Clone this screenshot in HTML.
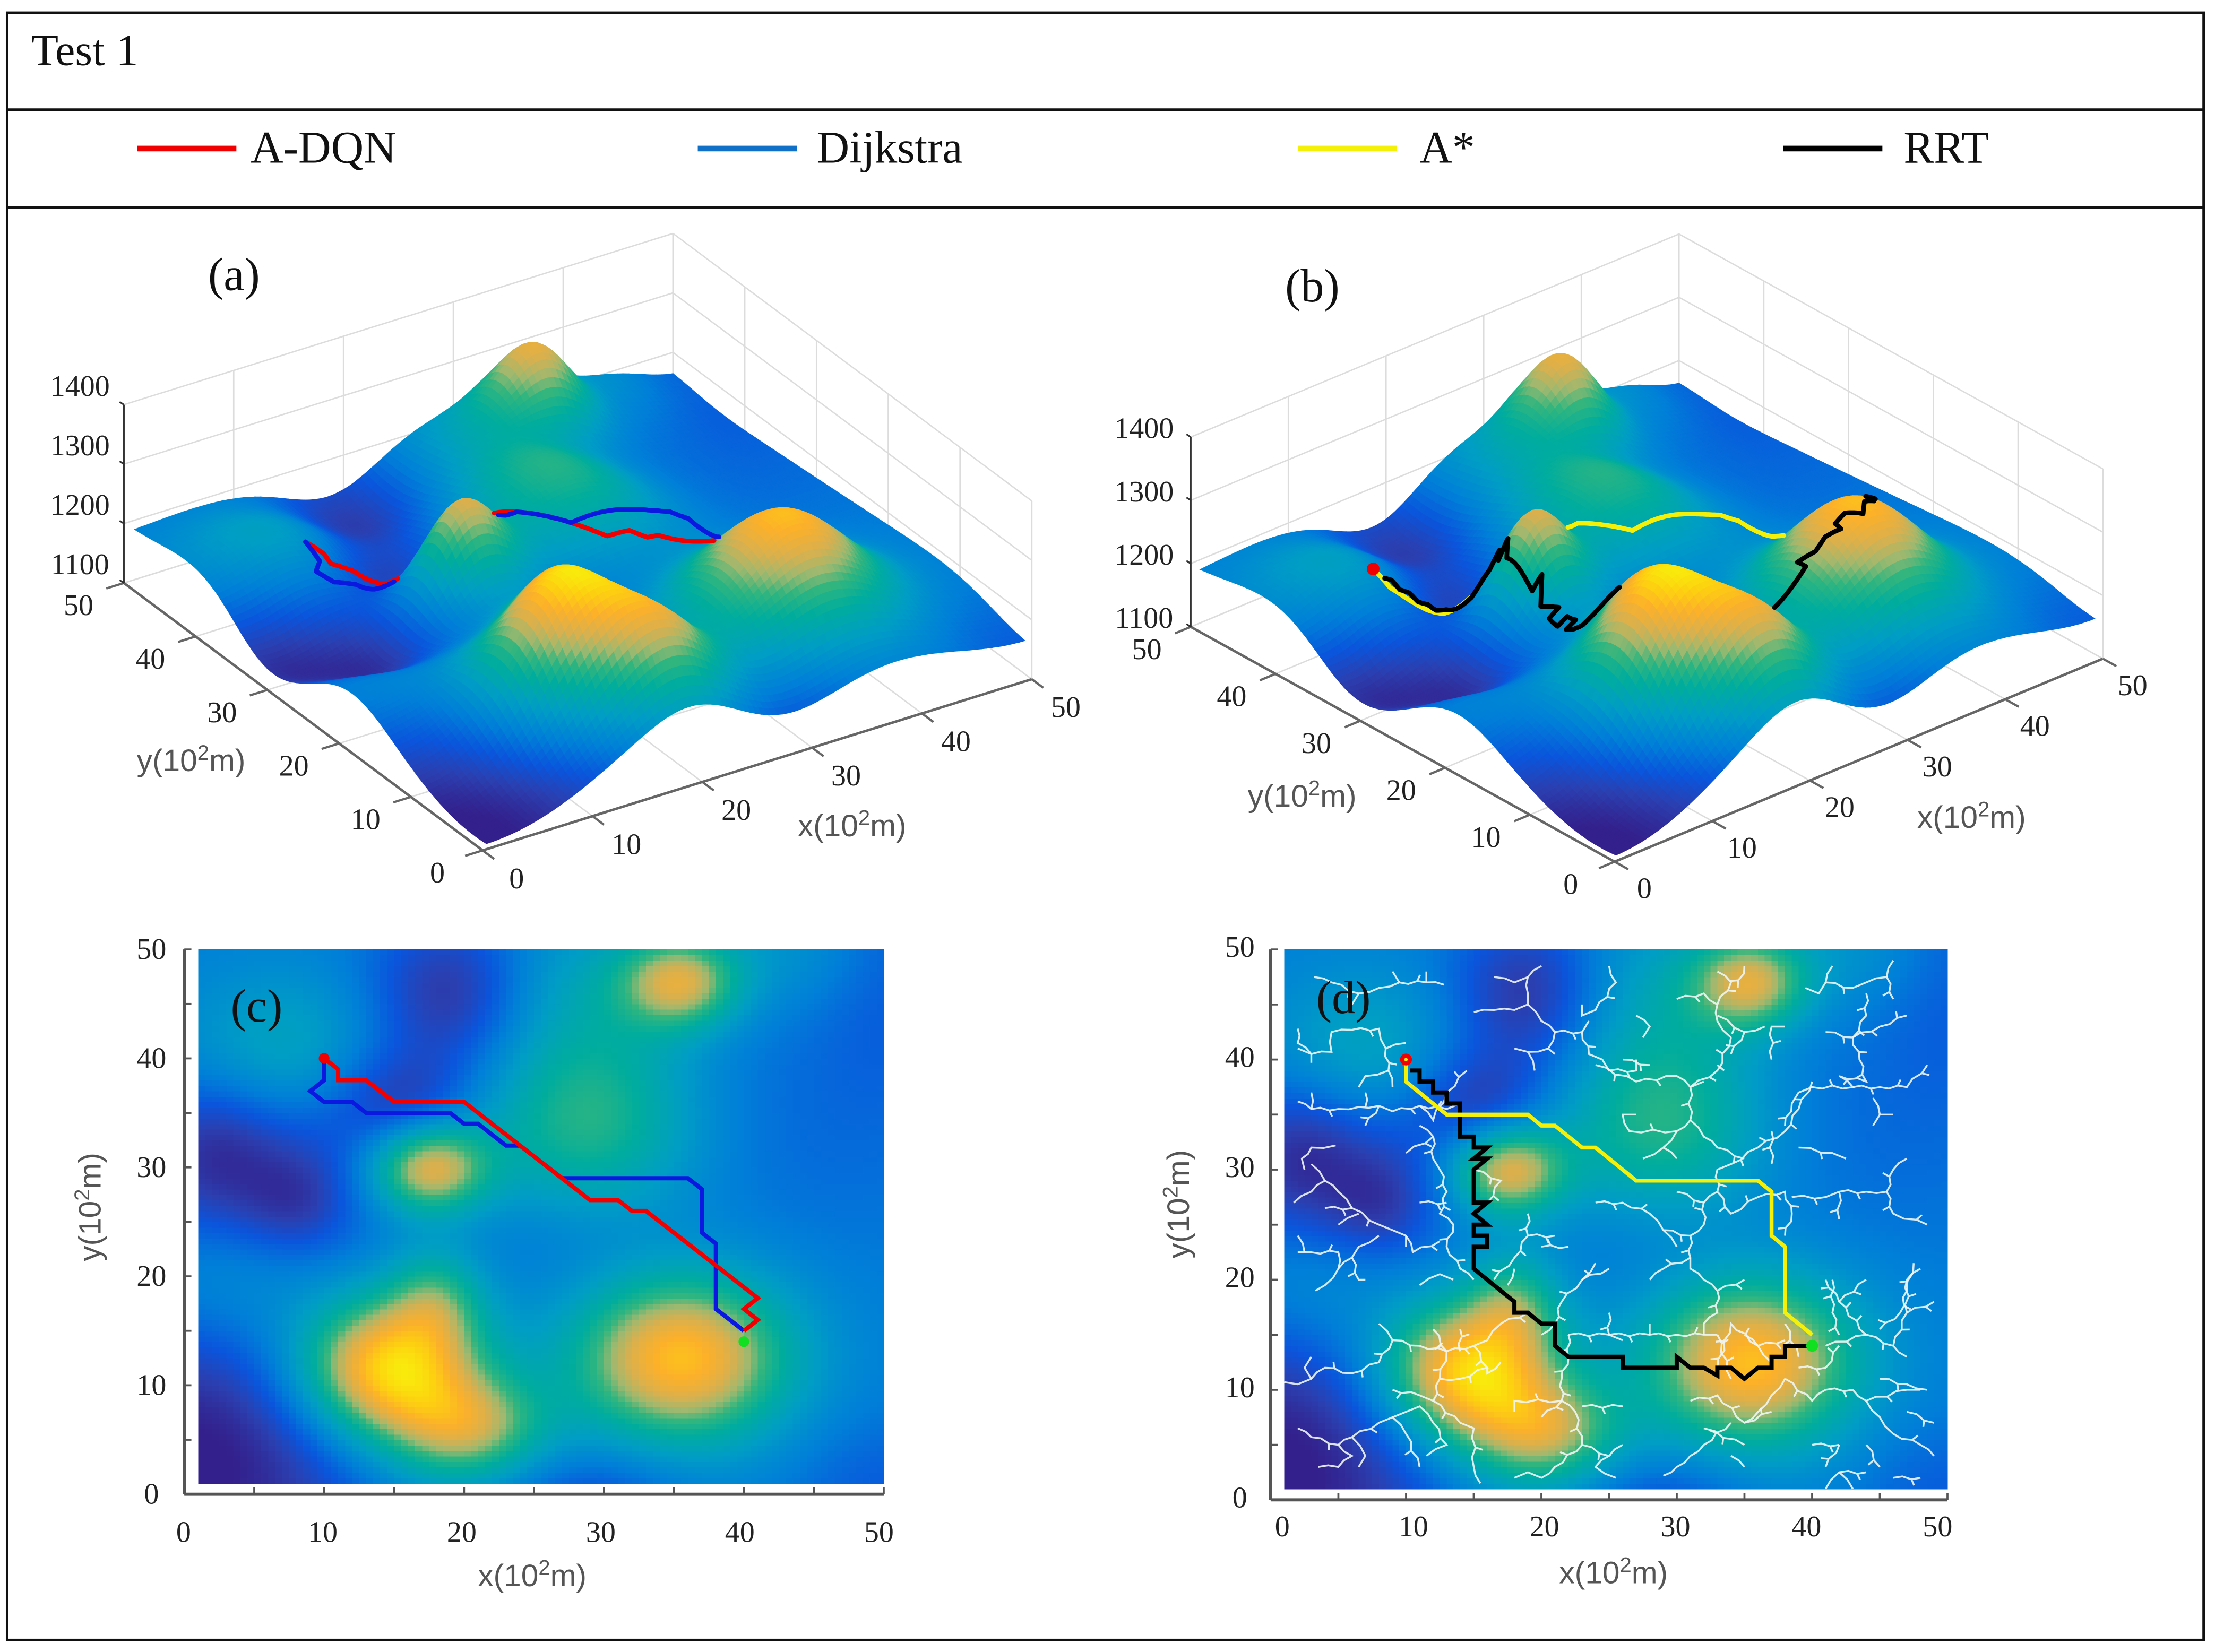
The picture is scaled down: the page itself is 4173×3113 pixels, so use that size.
<!DOCTYPE html>
<html lang="en">
<head>
<meta charset="utf-8">
<title>Test 1 path planning comparison</title>
<style>
html,body{margin:0;padding:0;background:#fff;width:4173px;height:3113px;overflow:hidden}
svg{display:block}
.tick{font-family:"Liberation Serif",serif;font-size:21px;fill:#222;text-anchor:middle;dominant-baseline:central}
.title{font-family:"Liberation Sans",sans-serif;font-size:22px;fill:#555;text-anchor:middle}
.panel{font-family:"Liberation Serif",serif;font-size:33px;fill:#111}
.legend{font-family:"Liberation Serif",serif;font-size:32px;fill:#111}
</style>
</head>
<body>
<svg id="fig" xmlns="http://www.w3.org/2000/svg" width="4173" height="3113" viewBox="0 0 1565 1167.5">
  <rect x="0" y="0" width="1565" height="1167.5" fill="#fff"/>
  <g id="layer-a"></g>
  <g id="layer-b"></g>
  <g id="layer-c"></g>
  <g id="layer-d"></g>

  <rect x="5" y="9" width="1552" height="1150" fill="none" stroke="#111" stroke-width="1.8"/>
  <line x1="5" y1="77.5" x2="1557" y2="77.5" stroke="#111" stroke-width="1.8"/>
  <line x1="5" y1="146.5" x2="1557" y2="146.5" stroke="#111" stroke-width="1.8"/>
  <text x="22" y="46" font-family="'Liberation Serif',serif" font-size="31.5" fill="#111">Test 1</text>

  <g>
    <line x1="97" y1="105" x2="167" y2="105" stroke="#f00000" stroke-width="4"/>
    <text class="legend" x="177" y="115">A-DQN</text>
  </g>
  <g>
    <line x1="493" y1="105" x2="563" y2="105" stroke="#1070c8" stroke-width="4"/>
    <text class="legend" x="577" y="115">Dijkstra</text>
  </g>
  <g>
    <line x1="917" y1="105" x2="987" y2="105" stroke="#f5f00a" stroke-width="4"/>
    <text class="legend" x="1003" y="115">A*</text>
  </g>
  <g>
    <line x1="1260" y1="105" x2="1330" y2="105" stroke="#000" stroke-width="4"/>
    <text class="legend" x="1345" y="115">RRT</text>
  </g>

  <text class="panel" x="147" y="205">(a)</text>
  <text class="panel" x="908" y="213">(b)</text>
  <text class="panel" x="163" y="722">(c)</text>
  <text class="panel" x="930" y="716">(d)</text>

  <text class="title" x="135" y="545">y(10<tspan dy="-8" font-size="15">2</tspan><tspan dy="8">m)</tspan></text>
  <text class="title" x="602" y="591">x(10<tspan dy="-8" font-size="15">2</tspan><tspan dy="8">m)</tspan></text>
  <text class="title" x="920" y="570">y(10<tspan dy="-8" font-size="15">2</tspan><tspan dy="8">m)</tspan></text>
  <text class="title" x="1393" y="585">x(10<tspan dy="-8" font-size="15">2</tspan><tspan dy="8">m)</tspan></text>
  <text class="title" x="376" y="1121">x(10<tspan dy="-8" font-size="15">2</tspan><tspan dy="8">m)</tspan></text>
  <text class="title" transform="translate(71 853) rotate(-90)">y(10<tspan dy="-8" font-size="15">2</tspan><tspan dy="8">m)</tspan></text>
  <text class="title" x="1140" y="1119">x(10<tspan dy="-8" font-size="15">2</tspan><tspan dy="8">m)</tspan></text>
  <text class="title" transform="translate(840 851) rotate(-90)">y(10<tspan dy="-8" font-size="15">2</tspan><tspan dy="8">m)</tspan></text>
</svg>

<script>
/* ---------- values ---------- */
const axisTicks = [0, 10, 20, 30, 40, 50];
const minorTicks = [0, 5, 10, 15, 20, 25, 30, 35, 40, 45, 50];
const elevationTicks = [1100, 1200, 1300, 1400];
const baseElevation = 1180;

/* terrain features: hills (positive) and pits (negative) */
const hillX      = [14.5, 20.5,18,  35.5, 17.5, 35.5, 29,  7,  3,  19,  4.5, 1,  29, 50, 50, 45, 18, 15.5, 44, 29, 8,  28, 2];
const hillY      = [11.5, 6,   18,  12.5, 30,   47,   34.5,41, 20, 46,  29,  3,  -1, 0,  50, 35, 1,  36,   50, 47, 26.5,23, 33];
const hillHeight = [195,  110, 70,  170,  145,  122,  90,  45, 37, -65, -60, -85,-40,-25,-25,-15,10, -55,  25, 35, -25,-15,-25];
const hillSpreadX= [4.6,  4,   2.5, 5.5,  3,    3,    5.5, 5,  5,  4,   6,   9,  5,  5,  3.5,9,  4,  3.5,  5,  5,  2.5, 6,  3];
const hillSpreadY= [4.7,  3.5, 3.5, 5.5,  3,    3,    6.5, 5,  5,  5,   5.5, 10, 4,  5,  8,  9,  3,  3.5,  4,  5,  3,   4,  4];

/* colour scale */
const colorLevels = [1100, 1125, 1150, 1180, 1215, 1250, 1275, 1295, 1315, 1340, 1362, 1385];
const colorValues = ['#33208c','#2b3fb0','#0a55dc','#007fd8','#009dc5','#00ad9d','#30b57f','#9fb86f','#d8b04f','#fcb02a','#fdd010','#f7f70a'];

/* planned paths, [x, y] in 10^2 m */
const adqnPath = [[10,40],[11,39],[11,38],[13,38],[15,36],[20,36],[24,32],[27,29],[29,27],[31,27],[32,26],[33,26],[38,21],[41,18],[40,17],[41,16],[40,15]];
const dijkstraPath = [[10,40],[10,38],[9,37],[10,36],[12,36],[13,35],[19,35],[20,34],[21,34],[23,32],[24,32],[27,29],[36,29],[37,28],[37,24],[38,23],[38,17],[40,15]];
const astarPath = [[10,40],[10,38],[13,35],[19,35],[20,34],[21,34],[23,32],[24,32],[27,29],[36,29],[37,28],[37,24],[38,23],[38,17],[40,15]];
const rrtPath = [[10.3,39],[11,39],[11,38],[12,38],[12,37],[13,37],[13,36],[14,36],[14,34],[14,33],[15,33],[15,32],[16,32],[15,31],[16,31],[15,30],[15,28],[15,27],[16,27],[15,26],[16,25],[15,25],[15,24],[16,24],[16,23],[15,23],[15,22],[15,21],[16,20],[17,19],[18,18],[18,17],[19,17],[20,16],[21,16],[21,14],[22,13],[26,13],[26,12],[30,12],[30,13],[31,12],[32,12],[33,11.3],[33,12],[34,12],[35,11],[36,12],[37,12],[37,13],[38,13],[38,14],[40,14]];
const startPoint = [10, 40];
const goalPoint = [40, 14];

/* RRT exploration branches in panel (d) */
const treeBranches = [
 [[3.2,47.5],[4.5,47],[6.5,46],[8,46.5],[9.5,47],[11.5,47],[12.8,46.8]],[[9,48],[9.5,47]],[[11.5,48],[11.5,47]],[[6,45],[6.5,46]],
 [[2,42.8],[2,41.5],[3,40.5],[4.5,40.7],[4.5,42.5],[6,42.7],[8,42.8],[8.5,41],[8.7,39],[9,37.5]],[[8.5,41],[10,41.5]],[[3,40.5],[2,41]],[[3,40.5],[3,39.7]],[[8.7,39],[7,38.5],[6.5,37.5]],
 [[2,36.2],[3,35.5],[5,35.5],[6.5,35.7],[8,35.8],[9,35.3],[11,35.8],[13,35.5],[14,36]],[[3,37],[3,35.5]],[[7,37],[7,35.7]],[[8,35.8],[7,34]],[[11,35.8],[12,34.5],[13,37],[14.5,39]],
 [[11,34],[12,33],[12,31],[12.5,30],[13,28],[12.5,26],[13.5,25],[13,23],[14,21],[15,20]],[[10,31.5],[12,33]],[[11,27],[13,27]],
 [[1.7,27],[3,28],[4,29],[5,28],[6,26.5],[8,25],[9,24.5],[10,24],[10,23]],[[2.5,30],[2.3,31],[3,32],[4.8,32.2]],[[3,30.5],[4,29]],[[4,26.5],[6,26.5]],[[5,25],[6.5,26]],[[10,24],[10.5,22.5],[12.5,23.5]],
 [[2,22.5],[3,22.5],[5,22.5],[5,21],[4,19.5],[3.3,19]],[[5,21],[6,22],[6.5,23],[8,24]],[[6,22],[6.5,20],[7,20]],[[2,24],[2.5,22.5]],[[11,19.5],[12.5,20.5],[13.5,20]],
 [[15,44.3],[16.5,44.5],[18,44.5],[19,45],[19,46],[19,47.5],[20,48.5]],[[16.5,47.5],[18,47],[19,47.5]],[[19,45],[20,43.5],[21,42.5],[23,42.5],[23.5,40.5],[24.5,40],[25,39],[27,39],[27,40]],[[21,42.5],[20.5,41],[21,40.5]],[[19,40.7],[19.5,39]],[[18,41],[19,40.7],[20.5,41]],[[23,42.5],[23.5,43.5]],[[23,45],[23,44],[24,44.5],[25.5,47],[25,48.5]],
 [[24,39.5],[27,38],[30,38.5],[31,37.5],[31,34.5],[30,33.5],[26.5,33.5],[26,35],[27,35]],[[30,33.5],[29,32],[27.5,31]],[[29,32],[30,31]],[[31,34.5],[32,33],[33,32],[35,31]],[[32,38],[31,37.5]],[[31,37.5],[33,39],[34,42]],[[33.5,39],[33,39.5]],[[34,42],[33,43.5],[33,45],[34,47],[33,48]],[[35,48.5],[34.5,46.5]],[[30,45.5],[32,46],[33,45]],[[33,44],[35,42.5],[36.5,43]],[[35,42.5],[34,40.5]],[[37,40],[37,43],[38,43]],[[27.5,42],[28,43],[27,44]],[[26,40],[28,39.5]],
 [[39.5,46.5],[40.5,46],[41,47],[41.5,48.5]],[[41,47],[43,46.5],[44,47],[45.5,47.5],[46,45.5]],[[45.5,47.5],[46,49]],[[44,46],[44,44],[43,42]],[[41,42.5],[43,42],[43.5,40],[44,38],[42,38.5],[43,37.5],[40,37.5],[39,37],[38.5,36],[38,34]],[[43,37.5],[45,37.5],[47,37.5],[48.5,39.5]],[[44.5,36.5],[45,35],[46,35]],[[45,35],[44.5,34]],[[43,42],[45,43],[47,44]],
 [[40,38],[39,35.5],[38,33.5],[36,32],[34,30.5],[33,30],[33,28],[34,26],[36,27.5],[38,28],[38.5,26],[38,24]],[[38.5,27.5],[41,27.5],[42,28],[44,28],[45.5,28],[46,30],[47,31]],[[45.5,28],[46,26],[48.5,25]],[[42,28],[42,25.5]],[[39,32],[41.5,31.5],[42.5,31]],[[37,33.5],[37,30.5]],
 [[24,27],[26,27],[28,26],[29,24.5],[31,24],[32,25],[32,27],[33,28]],[[29,24.5],[30,23]],[[31,24],[31,22],[31,21],[32,20]],[[31,22],[29,21],[28,20]],[[32,20],[33,19],[35,20]],[[33,19],[33,17],[32,16],[32,15]],[[30,28],[32,27]],
 [[19,26],[19,24],[18,22],[16.5,20]],[[19,24],[21,24]],[[22,23],[20,23]],[[24,21.5],[23,20],[21.5,18],[21,16],[20,15]],[[25,21],[23,20]],[[15,30],[17,29],[16,27]],[[18,21],[17.5,19.5]],
 [[22,15],[25,15],[28,15],[30,15],[32,15],[33,15]],[[25,17],[25,15],[26,14.5]],[[28,16],[28,15]],[[22,15],[22,13]],
 [[8,16],[9,14.5],[11,14],[13,13.5],[15,14],[16,14.5],[17,16],[19,17]],[[9,14.5],[8,12.5],[6,11.5],[4,12],[3,11],[2,10.5],[1,10.7]],[[3,11],[2.5,12],[3,13]],[[13,13.5],[12.5,11],[12,9],[11,9.5],[9,10]],[[12,9],[14,7],[15,6.5],[15,3],[15.5,1.5]],[[14,13.5],[14,15.5]],[[16,12],[16,11.5],[17,12.5]],[[15,14],[16,12],[14,11],[12.5,11]],[[12,15.5],[13,13.5]],
 [[22,13],[21.5,11],[21.5,9],[22.5,8],[23,5],[25,4],[24,3],[25.5,2]],[[21.5,9],[18,9],[18,8]],[[20,7.5],[21.5,9]],[[23,8.5],[26,8.5]],[[23,5],[21,3],[20,2],[19,2.5],[18,2]],[[25,4],[26,5]],
 [[2,6.5],[3,5.7],[5,5],[6,4],[5,3],[3.5,3]],[[5,5],[6,5.7],[7,4],[6.5,3]],[[6,5.7],[8,7],[9,7.5],[10,6],[11,3]],[[9,7.5],[10,8],[11,8.5],[12,7],[13,5],[11.5,4]],
 [[38,11],[37,9.5],[36,8],[35,7]],[[38,11],[40,9],[41,10],[43,10],[44,9],[45,7.5],[46,6],[48,5],[49,4]],[[39,12],[41,12],[42,14]],[[37,12.5],[36,14],[34,16],[33,12]],[[34,11],[33,15]],[[38,16],[39,13]],[[41,14],[44,15],[46,14],[47,13]],[[44,15],[42,18],[41,20]],[[42,18],[44,20]],[[46,14],[47,17],[47,20],[48,21]],[[47,17],[49,18]],[[35,15],[36,14],[38,14.5]],[[31,9],[33,9.5],[35,7],[37,8]],
 [[34,7],[32,5],[31,4],[30,3],[29,2.2]],[[32,6.5],[35,5]],[[34,4],[35,3]],[[41,1],[42,2.5],[44,2.5]],[[42,2.5],[43,1]],[[42,5],[41,3]],[[40,5],[42,5]],[[44,9],[47,10],[48,10]],[[47,8],[49,7]],[[44,5],[45,3]],[[46,2],[48,2]],
 [[45,11],[47,10.5],[48.5,10]],[[47.5,21.5],[47,19],[46.5,17],[45,15.5]],[[41.5,20],[41.5,17],[42,15]]
];

/* ---------- projections and scales ---------- */
const NS = 'http://www.w3.org/2000/svg';
const surfaceMin = 1;
const surfaceMax = 50;
const viewA = {ox:341, oy:601, xDx:7.76, yDx:-5.07, xDy:-2.42, yDy:-3.78, zk:0.42,
  xOff:[24,20], yOff:[-32,16], zOff:[-31,-13]};
const viewB = {ox:1140.8, oy:609, xDx:6.9, yDx:-5.99, xDy:-2.87, yDy:-3.32, zk:0.447,
  xOff:[21,19], yOff:[-31,16], zOff:[-33,-6]};
const mapC = {x0:130.2, x1:624.4, y0:1056, y1:671, labelX:107, labelStart:129.7, labelEnd:621, labelY:1083, labelShift:0};
const mapD = {x0:897.8, x1:1376, y0:1060, y1:671, labelX:876, labelStart:906, labelEnd:1369, labelY:1079, labelShift:-1.5};

function terrain(x, y) {
  let z = baseElevation;
  for (let i = 0; i < hillX.length; i++) {
    const dx = (x - hillX[i]) / hillSpreadX[i];
    const dy = (y - hillY[i]) / hillSpreadY[i];
    z += hillHeight[i] * Math.exp(-0.5 * (dx * dx + dy * dy));
  }
  return z;
}
function hexToRgb(h) {
  return [parseInt(h.slice(1,3),16), parseInt(h.slice(3,5),16), parseInt(h.slice(5,7),16)];
}
const colorRgb = colorValues.map(hexToRgb);
function colorFor(z) {
  if (z <= colorLevels[0]) return colorValues[0];
  for (let i = 1; i < colorLevels.length; i++) {
    if (z <= colorLevels[i]) {
      const t = (z - colorLevels[i-1]) / (colorLevels[i] - colorLevels[i-1]);
      const a = colorRgb[i-1], b = colorRgb[i];
      return 'rgb(' + Math.round(a[0]+(b[0]-a[0])*t) + ',' + Math.round(a[1]+(b[1]-a[1])*t) + ',' + Math.round(a[2]+(b[2]-a[2])*t) + ')';
    }
  }
  return colorValues[colorValues.length-1];
}
function project(v, x, y, z) {
  return [v.ox + v.xDx*x + v.yDx*y, v.oy + v.xDy*x + v.yDy*y - v.zk*(z-1100)];
}
function mapX(m, x) { return m.x0 + (m.x1-m.x0)*x/50; }
function mapY(m, y) { return m.y0 + (m.y1-m.y0)*y/50; }

function add(parent, kind, name, attrs) {
  const el = document.createElementNS(NS, kind);
  for (const k in attrs) el.setAttribute(k, attrs[k]);
  
  
  parent.appendChild(el);
  return el;
}
function addLine(parent, name, a, b, color, width) {
  return add(parent, 'line', name, {x1:a[0].toFixed(2), y1:a[1].toFixed(2), x2:b[0].toFixed(2), y2:b[1].toFixed(2), stroke:color, 'stroke-width':width});
}
function addTick(parent, name, x, y, text) {
  const t = add(parent, 'text', name, {x:x.toFixed(1), y:y.toFixed(1), class:'tick'});
  t.textContent = text;
  return t;
}

/* ---------- 3D panels ---------- */
function isHidden(v, x, y, z) {
  const ratio = -v.xDx / v.yDx;
  const rise = -(v.xDy + v.yDy * ratio) / v.zk;
  for (let s = 0.15; s < 50; s += 0.15) {
    const px = x - s, py = y - s * ratio;
    if (px < surfaceMin || py < surfaceMin) break;
    if (terrain(px, py) > z + rise * s) return true;
  }
  return false;
}
function drawPath3D(group, v, path, color, name) {
  let run = [];
  const flush = () => {
    if (run.length > 1) {
      add(group, 'polyline', name, {points: run.map(p => p[0].toFixed(1)+','+p[1].toFixed(1)).join(' '), fill:'none', stroke:color, 'stroke-width':3.3, 'stroke-linejoin':'round', 'stroke-linecap':'round'});
    }
    run = [];
  };
  for (let i = 0; i + 1 < path.length; i++) {
    const a = path[i], b = path[i+1];
    const n = Math.max(2, Math.ceil(Math.hypot(b[0]-a[0], b[1]-a[1]) / 0.2));
    for (let k = 0; k <= n; k++) {
      const x = a[0] + (b[0]-a[0])*k/n, y = a[1] + (b[1]-a[1])*k/n;
      const z = terrain(x, y) + 1;
      if (isHidden(v, x, y, z)) flush();
      else run.push(project(v, x, y, z));
    }
  }
  flush();
}
function drawSurfacePanel(group, v, suffix) {
  const gridGroup = add(group, 'g', 'grid-' + suffix, {});
  axisTicks.forEach(t => {
    addLine(gridGroup, 'back-wall-gridline-x', project(v,t,50,1100), project(v,t,50,1400), '#dcdcdc', 1);
    addLine(gridGroup, 'side-wall-gridline-y', project(v,50,t,1100), project(v,50,t,1400), '#dcdcdc', 1);
    addLine(gridGroup, 'floor-gridline-x', project(v,t,0,1100), project(v,t,50,1100), '#dcdcdc', 1);
    addLine(gridGroup, 'floor-gridline-y', project(v,0,t,1100), project(v,50,t,1100), '#dcdcdc', 1);
  });
  elevationTicks.forEach(t => {
    addLine(gridGroup, 'back-wall-gridline-z', project(v,0,50,t), project(v,50,50,t), '#dcdcdc', 1);
    addLine(gridGroup, 'side-wall-gridline-z', project(v,50,0,t), project(v,50,50,t), '#dcdcdc', 1);
  });
  const axisGroup = add(group, 'g', 'axes-' + suffix, {});
  addLine(axisGroup, 'x-axis-line', project(v,0,0,1100), project(v,50,0,1100), '#666', 1.8);
  addLine(axisGroup, 'y-axis-line', project(v,0,0,1100), project(v,0,50,1100), '#666', 1.8);
  addLine(axisGroup, 'z-axis-line', project(v,0,50,1100), project(v,0,50,1400), '#333', 1.2);
  axisTicks.forEach(t => {
    addLine(axisGroup, 'x-axis-tick', project(v,t,0,1100), project(v,t,-1.6,1100), '#666', 1.6);
    addLine(axisGroup, 'y-axis-tick', project(v,0,t,1100), project(v,-1.6,t,1100), '#666', 1.6);
    const px = project(v,t,0,1100), py = project(v,0,t,1100);
    addTick(axisGroup, 'x-tick-label', px[0]+v.xOff[0], px[1]+v.xOff[1], String(t));
    addTick(axisGroup, 'y-tick-label', py[0]+v.yOff[0], py[1]+v.yOff[1], String(t));
  });
  elevationTicks.forEach(t => {
    const p = project(v,0,50,t);
    addLine(axisGroup, 'z-axis-tick', p, [p[0]-3, p[1]-2], '#333', 1.2);
    addTick(axisGroup, 'z-tick-label', p[0]+v.zOff[0], p[1]+v.zOff[1], String(t));
  });
  const step = 0.5;
  const surface = add(group, 'g', 'terrain-surface-' + suffix, {});
  for (let x = surfaceMax - step; x >= surfaceMin; x -= step) {
    for (let y = surfaceMax - step; y >= surfaceMin; y -= step) {
      const a = project(v, x, y, terrain(x, y));
      const b = project(v, x+step, y, terrain(x+step, y));
      const c = project(v, x+step, y+step, terrain(x+step, y+step));
      const d = project(v, x, y+step, terrain(x, y+step));
      const col = colorFor(terrain(x+step/2, y+step/2));
      add(surface, 'polygon', 'surface-facet', {points:[a,b,c,d].map(p=>p[0].toFixed(1)+','+p[1].toFixed(1)).join(' '), fill:col, stroke:col, 'stroke-width':0.7});
    }
  }
}
function drawHeatPanel(group, m, suffix) {
  const step = 0.5;
  const cells = add(group, 'g', 'heatmap-cells-' + suffix, {'shape-rendering':'crispEdges'});
  const w = Math.abs(mapX(m,step)-mapX(m,0)) + 0.25;
  const h = Math.abs(mapY(m,step)-mapY(m,0)) + 0.25;
  for (let x = 1; x < 50; x += step) {
    for (let y = 1; y < 50; y += step) {
      add(cells, 'rect', 'heatmap-cell', {x:mapX(m,x).toFixed(2), y:mapY(m,y+step).toFixed(2), width:w.toFixed(2), height:h.toFixed(2), fill:colorFor(terrain(x+step/2, y+step/2))});
    }
  }
  const axes = add(group, 'g', 'axes-' + suffix, {});
  addLine(axes, 'x-axis-line', [m.x0,m.y0], [m.x1,m.y0], '#555', 2.2);
  addLine(axes, 'y-axis-line', [m.x0,m.y0], [m.x0,m.y1], '#555', 2.2);
  minorTicks.forEach(t => {
    addLine(axes, 'x-axis-tick', [mapX(m,t),m.y0], [mapX(m,t),m.y0-5], '#555', 1.4);
    addLine(axes, 'y-axis-tick', [m.x0,mapY(m,t)], [m.x0+5,mapY(m,t)], '#555', 1.4);
  });
  axisTicks.forEach(t => {
    addTick(axes, 'x-tick-label', m.labelStart + (m.labelEnd-m.labelStart)*t/50, m.labelY, String(t));
    addTick(axes, 'y-tick-label', m.labelX, mapY(m,t)+m.labelShift, String(t));
  });
}
function drawPath2D(group, m, path, color, name, width) {
  add(group, 'polyline', name, {points:path.map(p=>mapX(m,p[0]).toFixed(1)+','+mapY(m,p[1]).toFixed(1)).join(' '), fill:'none', stroke:color, 'stroke-width':width, 'stroke-linejoin':'miter'});
}
/* each branch is drawn with the tree's fine stair-stepped outline and small side twigs */
function branchOutline(m, branch) {
  let d = '', twigs = '', side = 1;
  const sx = x => mapX(m,x).toFixed(1), sy = y => mapY(m,y).toFixed(1);
  d += 'M' + sx(branch[0][0]) + ' ' + sy(branch[0][1]);
  for (let i = 0; i + 1 < branch.length; i++) {
    const a = branch[i], b = branch[i+1];
    const len = Math.hypot(b[0]-a[0], b[1]-a[1]);
    const n = Math.max(1, Math.round(len / 0.8));
    const nx = -(b[1]-a[1]) / (len || 1), ny = (b[0]-a[0]) / (len || 1);
    for (let k = 1; k <= n; k++) {
      const off = k === n ? 0 : side * 0.13;
      const x = a[0] + (b[0]-a[0])*k/n + nx*off, y = a[1] + (b[1]-a[1])*k/n + ny*off;
      d += 'L' + sx(x) + ' ' + sy(y);
      if (k % 2 === 0 && k !== n) {
        twigs += 'M' + sx(x) + ' ' + sy(y) + 'L' + sx(x + nx*side*0.55 + (b[0]-a[0])/(len||1)*0.2) + ' ' + sy(y + ny*side*0.55 + (b[1]-a[1])/(len||1)*0.2);
      }
      side = -side;
    }
  }
  return d + twigs;
}

const layerA = document.getElementById('layer-a');
const layerB = document.getElementById('layer-b');
const layerC = document.getElementById('layer-c');
const layerD = document.getElementById('layer-d');

drawSurfacePanel(layerA, viewA, 'a');
drawPath3D(layerA, viewA, adqnPath, '#f00000', 'a-dqn-path-3d');
drawPath3D(layerA, viewA, dijkstraPath, '#0a18e0', 'dijkstra-path-3d');

drawSurfacePanel(layerB, viewB, 'b');
drawPath3D(layerB, viewB, astarPath, '#f5f00a', 'a-star-path-3d');
drawPath3D(layerB, viewB, rrtPath, '#000', 'rrt-path-3d');
const startB = project(viewB, startPoint[0], startPoint[1], terrain(startPoint[0], startPoint[1]) + 1);
add(layerB, 'circle', 'start-marker-b', {cx:startB[0].toFixed(1), cy:startB[1].toFixed(1), r:4.5, fill:'#f00000'});

drawHeatPanel(layerC, mapC, 'c');
drawPath2D(layerC, mapC, dijkstraPath, '#0a18e0', 'dijkstra-path', 3);
drawPath2D(layerC, mapC, adqnPath, '#f00000', 'a-dqn-path', 3);
add(layerC, 'circle', 'start-marker-c', {cx:mapX(mapC,startPoint[0]).toFixed(1), cy:mapY(mapC,startPoint[1]).toFixed(1), r:3.8, fill:'#f00000'});
add(layerC, 'circle', 'goal-marker-c', {cx:mapX(mapC,goalPoint[0]).toFixed(1), cy:mapY(mapC,goalPoint[1]).toFixed(1), r:3.8, fill:'#10e020'});

drawHeatPanel(layerD, mapD, 'd');
const treeGroup = add(layerD, 'g', 'rrt-exploration-tree', {});
treeBranches.forEach(branch => {
  add(treeGroup, 'path', 'rrt-tree-branch', {d:branchOutline(mapD, branch), fill:'none', stroke:'#eef6f4', 'stroke-width':1.3, 'stroke-opacity':0.9});
});
drawPath2D(layerD, mapD, rrtPath, '#000', 'rrt-path', 3);
drawPath2D(layerD, mapD, astarPath, '#f5f00a', 'a-star-path', 2.8);
add(layerD, 'circle', 'start-marker-d', {cx:mapX(mapD,startPoint[0]).toFixed(1), cy:mapY(mapD,startPoint[1]).toFixed(1), r:4.2, fill:'#f00000'});
add(layerD, 'circle', 'start-marker-center-d', {cx:mapX(mapD,startPoint[0]).toFixed(1), cy:mapY(mapD,startPoint[1]).toFixed(1), r:1.2, fill:'#f5f00a'});
add(layerD, 'circle', 'goal-marker-d', {cx:mapX(mapD,goalPoint[0]).toFixed(1), cy:mapY(mapD,goalPoint[1]).toFixed(1), r:4.2, fill:'#10e020'});
</script>
</body>
</html>
